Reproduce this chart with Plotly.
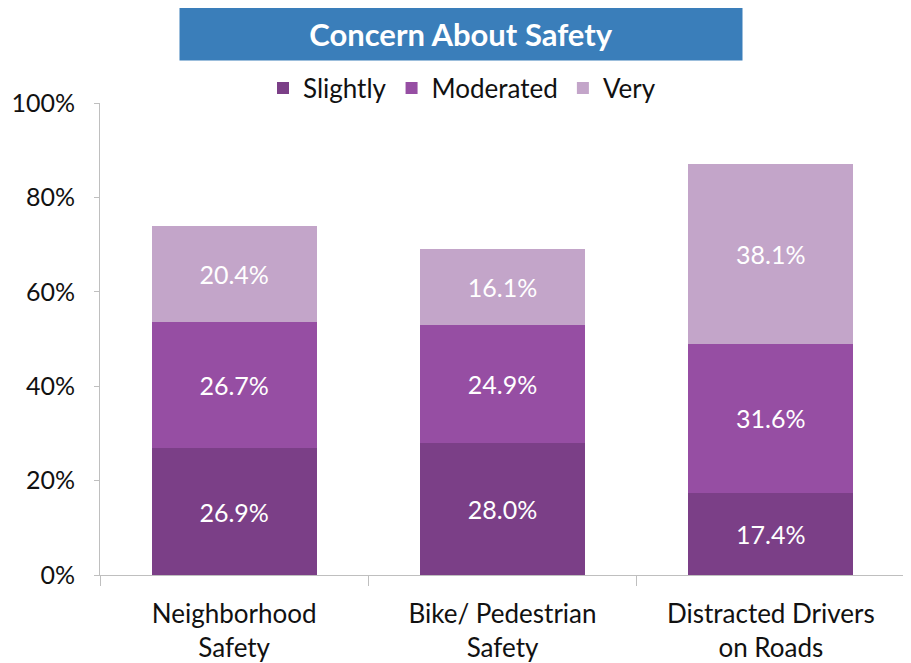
import plotly.graph_objects as go

categories = ["Neighborhood<br>Safety", "Bike/ Pedestrian<br>Safety", "Distracted Drivers<br>on Roads"]
slightly = [26.9, 28.0, 17.4]
moderated = [26.7, 24.9, 31.6]
very = [20.4, 16.1, 38.1]
series_names = ["Slightly", "Moderated", "Very"]
colors = ["#7B3F87", "#964EA3", "#C3A5C9"]
title_text = "Concern About Safety"

FONT = "Lato, 'Open Sans', sans-serif"
OFF = 8  # default page body margin
W, H = 911 - OFF, 663 - OFF
# target pixel positions in the window
AX_L, AX_R, AX_T, AX_B = 100, 905, 103, 575
L, T = AX_L - OFF, AX_T - OFF
R = 911 - AX_R
B = 663 - AX_B
pw, ph = AX_R - AX_L, AX_B - AX_T

def px_x(x):
    return (x - AX_L) / pw

def px_y(y):
    return (AX_B - y) / ph

fig = go.Figure()
for name, vals, col in zip(series_names, [slightly, moderated, very], colors):
    fig.add_trace(go.Bar(
        x=categories, y=vals, name=name,
        marker=dict(color=col, line=dict(width=0)),
        text=[f"{v:.1f}%" for v in vals],
        textposition="inside", insidetextanchor="middle",
        textfont=dict(family=FONT, size=25, color="white"),
        constraintext="none",
    ))

fig.update_layout(
    barmode="stack",
    bargap=0.385,
    width=W, height=H,
    margin=dict(l=L, r=R, t=T, b=B, autoexpand=False),
    paper_bgcolor="white", plot_bgcolor="white",
    font=dict(family=FONT, size=25, color="#111111"),
    showlegend=True,
    legend=dict(orientation="h", x=px_x(462), y=px_y(88), xanchor="center", yanchor="middle",
                font=dict(family=FONT, size=26, color="#111111"),
                itemwidth=30, traceorder="normal", bgcolor="rgba(0,0,0,0)"),
)
fig.update_yaxes(range=[0, 100], dtick=20, ticksuffix="%", showgrid=False, zeroline=False,
                 showline=True, linecolor="#BFBFBF", linewidth=1,
                 ticks="outside", ticklen=5, tickcolor="#BFBFBF", ticklabelstandoff=14,
                 tickfont=dict(family=FONT, size=25, color="#111111"))
fig.update_xaxes(showgrid=False, showline=True, linecolor="#BFBFBF", linewidth=1,
                 ticks="outside", tickson="boundaries", ticklen=10, tickcolor="#BFBFBF",
                 ticklabelstandoff=16,
                 tickfont=dict(family=FONT, size=26, color="#111111"))

fig.add_annotation(
    xref="paper", yref="paper", x=px_x(461), y=px_y(34),
    xanchor="center", yanchor="middle",
    text=f"<b>{title_text}</b>", showarrow=False,
    font=dict(family=FONT, size=31, color="white"),
    bgcolor="#3A7EBA", width=562, height=52, borderpad=0,
)

fig.write_html("out.html")
